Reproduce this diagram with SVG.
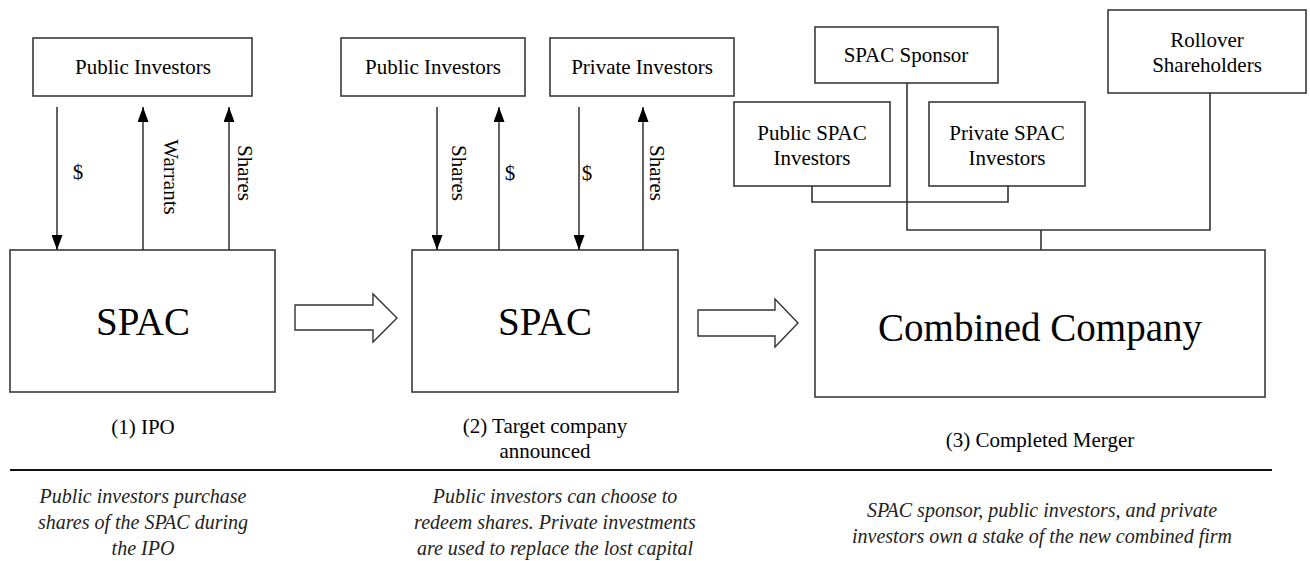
<svg xmlns="http://www.w3.org/2000/svg" width="1310" height="561" viewBox="0 0 1310 561">
  <style>
    .box { fill: #ffffff; stroke: #3a3a3a; stroke-width: 1.6; }
    .lbl { font-family: "Liberation Serif", "Times New Roman", serif; font-size: 21px; fill: #000; text-anchor: middle; }
    .big { font-family: "Liberation Serif", "Times New Roman", serif; font-size: 39px; fill: #000; text-anchor: middle; }
    .note { font-family: "Liberation Serif", "Times New Roman", serif; font-size: 20px; font-style: italic; fill: #222; text-anchor: middle; }
    .flow { stroke: #222; stroke-width: 1.4; fill: none; }
    .link { stroke: #333; stroke-width: 1.6; fill: none; }
    .bigarrow { fill: #fff; stroke: #333; stroke-width: 1.4; stroke-linejoin: miter; }
  </style>
  <defs>
    <marker id="head" viewBox="0 0 15 11" refX="15" refY="5.5" markerWidth="15" markerHeight="11" markerUnits="userSpaceOnUse" orient="auto">
      <path d="M0,0 L15,5.5 L0,11 Z" fill="#000"/>
    </marker>
  </defs>
  <rect width="1310" height="561" fill="#fff"/>

  <!-- Stage 1: IPO -->
  <g id="public-investors-1">
    <rect class="box" x="33" y="38" width="219" height="58"/>
    <text class="lbl" x="143" y="74">Public Investors</text>
  </g>
  <g id="spac-1">
    <rect class="box" x="10" y="250" width="265" height="142"/>
    <text class="big" x="143" y="335">SPAC</text>
  </g>

  <!-- Stage 2: target announced -->
  <g id="public-investors-2">
    <rect class="box" x="341" y="38" width="184" height="58"/>
    <text class="lbl" x="433" y="74">Public Investors</text>
  </g>
  <g id="private-investors">
    <rect class="box" x="550" y="38" width="184" height="58"/>
    <text class="lbl" x="642" y="74">Private Investors</text>
  </g>
  <g id="spac-2">
    <rect class="box" x="412" y="250" width="266" height="142"/>
    <text class="big" x="545" y="335">SPAC</text>
  </g>

  <!-- Stage 3: completed merger -->
  <g id="spac-sponsor">
    <rect class="box" x="815" y="27" width="183" height="56"/>
    <text class="lbl" x="906" y="62">SPAC Sponsor</text>
  </g>
  <g id="rollover-shareholders">
    <rect class="box" x="1108" y="10" width="198" height="83"/>
    <text class="lbl" x="1207" y="47">Rollover</text>
    <text class="lbl" x="1207" y="72">Shareholders</text>
  </g>
  <g id="public-spac-investors">
    <rect class="box" x="734" y="102" width="156" height="84"/>
    <text class="lbl" x="812" y="140">Public SPAC</text>
    <text class="lbl" x="812" y="165">Investors</text>
  </g>
  <g id="private-spac-investors">
    <rect class="box" x="929" y="102" width="156" height="84"/>
    <text class="lbl" x="1007" y="140">Private SPAC</text>
    <text class="lbl" x="1007" y="165">Investors</text>
  </g>
  <g id="combined-company">
    <rect class="box" x="815" y="250" width="450" height="147"/>
    <text class="big" x="1040" y="341">Combined Company</text>
  </g>

  <!-- Connectors -->
  <g id="connectors">
    <!-- stage 1 flows -->
    <line class="flow" x1="57" y1="107" x2="57" y2="250" marker-end="url(#head)"/>
    <line class="flow" x1="143" y1="250" x2="143" y2="107" marker-end="url(#head)"/>
    <line class="flow" x1="229" y1="250" x2="229" y2="107" marker-end="url(#head)"/>
    <text class="lbl" x="78" y="179">$</text>
    <text class="lbl" transform="rotate(90 164 177)" x="164" y="177">Warrants</text>
    <text class="lbl" transform="rotate(90 238 173)" x="238" y="173">Shares</text>

    <!-- stage 2 flows -->
    <line class="flow" x1="437" y1="107" x2="437" y2="250" marker-end="url(#head)"/>
    <line class="flow" x1="499" y1="250" x2="499" y2="107" marker-end="url(#head)"/>
    <line class="flow" x1="579" y1="107" x2="579" y2="250" marker-end="url(#head)"/>
    <line class="flow" x1="643" y1="250" x2="643" y2="107" marker-end="url(#head)"/>
    <text class="lbl" transform="rotate(90 452 173)" x="452" y="173">Shares</text>
    <text class="lbl" x="510" y="180">$</text>
    <text class="lbl" x="587" y="180">$</text>
    <text class="lbl" transform="rotate(90 650 173)" x="650" y="173">Shares</text>

    <!-- stage 3 ownership tree -->
    <polyline class="link" points="812,186 812,202 1008,202 1008,186"/>
    <polyline class="link" points="907,83 907,230 1210,230 1210,93"/>
    <line class="link" x1="1041" y1="230" x2="1041" y2="250"/>

    <!-- stage transitions -->
    <path class="bigarrow" d="M295,305 L373,305 L373,294 L397,318 L373,342 L373,330 L295,330 Z"/>
    <path class="bigarrow" d="M698,310 L775,310 L775,299 L798,323 L775,347 L775,336 L698,336 Z"/>
  </g>

  <!-- Stage captions -->
  <text class="lbl" x="143" y="434">(1) IPO</text>
  <text class="lbl" x="545" y="433">(2) Target company</text>
  <text class="lbl" x="545" y="458">announced</text>
  <text class="lbl" x="1040" y="447">(3) Completed Merger</text>

  <line x1="10" y1="470" x2="1272" y2="470" stroke="#111" stroke-width="2"/>

  <!-- Stage descriptions -->
  <text class="note" x="143" y="503">Public investors purchase</text>
  <text class="note" x="143" y="529">shares of the SPAC during</text>
  <text class="note" x="143" y="555">the IPO</text>
  <text class="note" x="555" y="503">Public investors can choose to</text>
  <text class="note" x="555" y="529">redeem shares. Private investments</text>
  <text class="note" x="555" y="555">are used to replace the lost capital</text>
  <text class="note" x="1042" y="517">SPAC sponsor, public investors, and private</text>
  <text class="note" x="1042" y="543">investors own a stake of the new combined firm</text>
</svg>
